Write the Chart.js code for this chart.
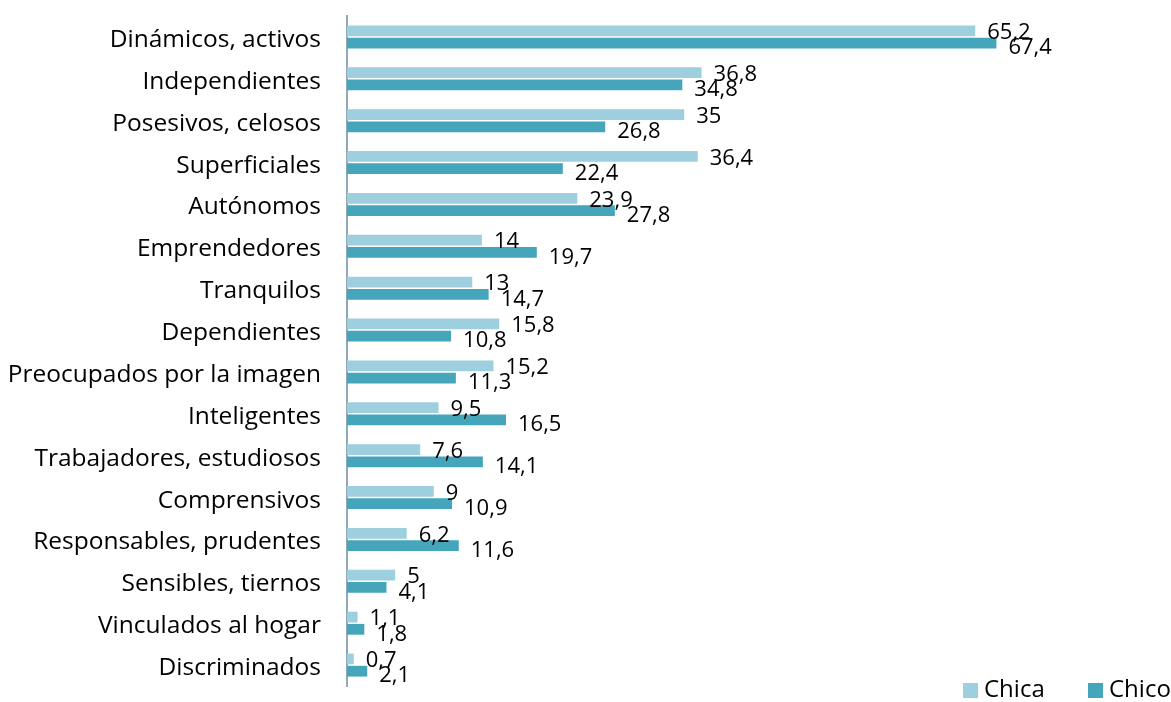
<!DOCTYPE html>
<html>
<head>
<meta charset="utf-8">
<script src="https://cdn.jsdelivr.net/npm/chart.js@4"></script>
<style>
  html, body { margin: 0; padding: 0; background: #fff; }
  #wrap { width: 1171px; height: 702px; position: relative; }
</style>
</head>
<body>
<div id="wrap"><canvas id="myChart"></canvas></div>
<script>
var categories = ["Dinámicos, activos", "Independientes", "Posesivos, celosos", "Superficiales",
  "Autónomos", "Emprendedores", "Tranquilos", "Dependientes", "Preocupados por la imagen",
  "Inteligentes", "Trabajadores, estudiosos", "Comprensivos", "Responsables, prudentes",
  "Sensibles, tiernos", "Vinculados al hogar", "Discriminados"];
var chicaValues = [65.2, 36.8, 35, 36.4, 23.9, 14, 13, 15.8, 15.2, 9.5, 7.6, 9, 6.2, 5, 1.1, 0.7];
var chicoValues = [67.4, 34.8, 26.8, 22.4, 27.8, 19.7, 14.7, 10.8, 11.3, 16.5, 14.1, 10.9, 11.6, 4.1, 1.8, 2.1];
var seriesNames = ["Chica", "Chico"];
var barColors = ["#9ecfdf", "#45a6bb"];

var fontFamily = "'Open Sans', sans-serif";

// value labels next to bar ends, comma as decimal separator
var valueLabels = {
  id: "valueLabels",
  afterDatasetsDraw: function(chart) {
    var ctx = chart.ctx;
    ctx.save();
    ctx.font = "22px " + fontFamily;
    ctx.fillStyle = "#000";
    ctx.textAlign = "left";
    ctx.textBaseline = "middle";
    chart.data.datasets.forEach(function(ds, i) {
      var meta = chart.getDatasetMeta(i);
      meta.data.forEach(function(bar, j) {
        var txt = String(ds.data[j]).replace(".", ",");
        var dy = i == 0 ? 2 : 5;
        ctx.fillText(txt, bar.x + 12, bar.y + dy);
      });
    });
    ctx.restore();
  }
};

// legend in the bottom right corner
var cornerLegend = {
  id: "cornerLegend",
  afterDraw: function(chart) {
    var ctx = chart.ctx;
    var xs = [963, 1088];
    ctx.save();
    ctx.font = "24px " + fontFamily;
    ctx.textBaseline = "middle";
    chart.data.datasets.forEach(function(ds, i) {
      ctx.fillStyle = ds.backgroundColor;
      ctx.fillRect(xs[i], 683, 15, 15);
      ctx.fillStyle = "#000";
      ctx.fillText(ds.label, xs[i] + 21, 690);
    });
    ctx.restore();
  }
};

new Chart("myChart", {
  type: "bar",
  data: {
    labels: categories,
    datasets: [
      { label: seriesNames[0], data: chicaValues, backgroundColor: barColors[0] },
      { label: seriesNames[1], data: chicoValues, backgroundColor: barColors[1] }
    ]
  },
  options: {
    indexAxis: "y",
    responsive: true,
    maintainAspectRatio: false,
    animation: false,
    categoryPercentage: 0.585,
    barPercentage: 0.88,
    layout: { padding: { top: 16, bottom: 16, right: 5, left: 0 } },
    scales: {
      x: {
        display: false,
        min: 0,
        max: 85,
        grid: { display: false }
      },
      y: {
        grid: { display: false, drawTicks: false },
        border: { display: true, color: "#8fa9b8", width: 2 },
        ticks: {
          color: "#000",
          padding: 26,
          labelOffset: 3,
          font: { family: fontFamily, size: 24.5 }
        },
        afterFit: function(scale) {
          scale.width = 347;
          scale.paddingTop = 0;
          scale.paddingBottom = 0;
        }
      }
    },
    plugins: {
      legend: { display: false },
      tooltip: { enabled: false }
    }
  },
  plugins: [valueLabels, cornerLegend]
});
</script>
</body>
</html>
